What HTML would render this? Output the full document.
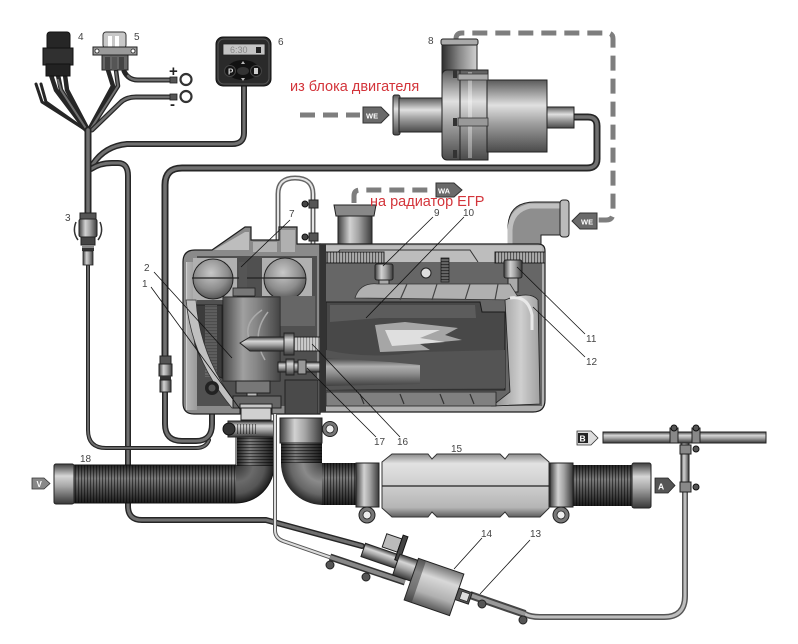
<!DOCTYPE html>
<html><head><meta charset="utf-8"><style>
html,body{margin:0;padding:0;background:#fff;}
svg{display:block}
.w1{fill:none;stroke:#262626;stroke-linecap:round;stroke-linejoin:round}
.w2{fill:none;stroke:#707070;stroke-linecap:round;stroke-linejoin:round}
.ld{stroke:#111;stroke-width:.8;fill:none}
.num{font-family:"Liberation Sans",sans-serif;font-size:10px;fill:#444}
.dash{fill:none;stroke:#7e7e7e;stroke-width:5;stroke-dasharray:15 8}
.red{font-family:"Liberation Sans","DejaVu Sans",sans-serif;font-size:14.5px;fill:#d3343a}
.ol{stroke:#1e1e1e;stroke-width:1.2}
</style></head><body>
<svg width="798" height="644" viewBox="0 0 798 644" xmlns="http://www.w3.org/2000/svg">
<defs>
 <linearGradient id="cH" x1="0" y1="0" x2="0" y2="1">
  <stop offset="0" stop-color="#3e3e3e"/><stop offset=".3" stop-color="#d6d6d6"/><stop offset=".55" stop-color="#a8a8a8"/><stop offset="1" stop-color="#383838"/>
 </linearGradient>
 <linearGradient id="cV" x1="0" y1="0" x2="1" y2="0">
  <stop offset="0" stop-color="#3e3e3e"/><stop offset=".35" stop-color="#d2d2d2"/><stop offset=".6" stop-color="#a4a4a4"/><stop offset="1" stop-color="#3a3a3a"/>
 </linearGradient>
 <linearGradient id="cVl" x1="0" y1="0" x2="1" y2="0">
  <stop offset="0" stop-color="#2e2e2e"/><stop offset=".5" stop-color="#888"/><stop offset="1" stop-color="#d0d0d0"/>
 </linearGradient>
 <linearGradient id="pump" x1="0" y1="0" x2="0" y2="1">
  <stop offset="0" stop-color="#5a5a5a"/><stop offset=".35" stop-color="#e0e0e0"/><stop offset=".6" stop-color="#a0a0a0"/><stop offset="1" stop-color="#4a4a4a"/>
 </linearGradient>
 <linearGradient id="fpump" x1="0" y1="0" x2="0" y2="1">
  <stop offset="0" stop-color="#777"/><stop offset=".3" stop-color="#d8d8d8"/><stop offset=".7" stop-color="#b0b0b0"/><stop offset="1" stop-color="#5a5a5a"/>
 </linearGradient>
 <linearGradient id="hoseH" x1="0" y1="0" x2="0" y2="1">
  <stop offset="0" stop-color="#222"/><stop offset=".35" stop-color="#7c7c7c"/><stop offset=".6" stop-color="#555"/><stop offset="1" stop-color="#1c1c1c"/>
 </linearGradient>
 <linearGradient id="hoseV" x1="0" y1="0" x2="1" y2="0">
  <stop offset="0" stop-color="#222"/><stop offset=".35" stop-color="#7c7c7c"/><stop offset=".6" stop-color="#555"/><stop offset="1" stop-color="#1c1c1c"/>
 </linearGradient>
 <radialGradient id="bend1" gradientUnits="userSpaceOnUse" cx="236" cy="465" r="38">
  <stop offset="0" stop-color="#333"/><stop offset=".45" stop-color="#6a6a6a"/><stop offset=".75" stop-color="#555"/><stop offset="1" stop-color="#1c1c1c"/>
 </radialGradient>
 <radialGradient id="bend2" gradientUnits="userSpaceOnUse" cx="322" cy="463" r="42">
  <stop offset="0" stop-color="#444"/><stop offset=".45" stop-color="#8a8a8a"/><stop offset=".75" stop-color="#666"/><stop offset="1" stop-color="#222"/>
 </radialGradient>
 <linearGradient id="muff" x1="0" y1="0" x2="0" y2="1">
  <stop offset="0" stop-color="#8a8a8a"/><stop offset=".15" stop-color="#e2e2e2"/><stop offset=".5" stop-color="#cecece"/><stop offset=".85" stop-color="#b5b5b5"/><stop offset="1" stop-color="#5e5e5e"/>
 </linearGradient>
 <linearGradient id="shell" x1="0" y1="0" x2="1" y2="0">
  <stop offset="0" stop-color="#e6e6e6"/><stop offset=".1" stop-color="#b4b4b4"/><stop offset="1" stop-color="#9a9a9a"/>
 </linearGradient>
 <linearGradient id="rside" x1="0" y1="0" x2="1" y2="0">
  <stop offset="0" stop-color="#8a8a8a"/><stop offset=".6" stop-color="#cfcfcf"/><stop offset="1" stop-color="#a0a0a0"/>
 </linearGradient>
 <radialGradient id="dome" cx=".45" cy=".35" r=".7">
  <stop offset="0" stop-color="#c8c8c8"/><stop offset=".6" stop-color="#8c8c8c"/><stop offset="1" stop-color="#4a4a4a"/>
 </radialGradient>
 <pattern id="ribV" width="3" height="20" patternUnits="userSpaceOnUse"><rect width="1.1" height="20" fill="#000" opacity=".5"/></pattern>
 <pattern id="ribH" width="20" height="3" patternUnits="userSpaceOnUse"><rect width="20" height="1.1" fill="#000" opacity=".5"/></pattern>
 <path id="cable" d="M574,117 L588,117 Q597,117 597,126 L597,159 Q597,168 587,168 L182,168 Q165,168 165,185 L165,358"/>
 <path id="wp" d="M244,85 L244,133 Q244,144 232,144 L127,144 Q105,146 93,164"/>
 <path id="w128" d="M91,169 Q100,163 112,163 L118,163 Q128,163 128,176 L128,506 Q128,520 142,520 L266,520 L362,546"/>
 <path id="trunk" d="M88,130 L88,215"/>
</defs>

<!-- ===== Dashed coolant lines ===== -->
<path class="dash" d="M300,115 L360,115"/>
<path class="dash" d="M354,203 L354,196 Q354,190 360,190 L432,190"/>
<path class="dash" d="M456,42 L456,39 Q456,33 462,33 L607,33 Q613,33 613,39 L613,213 Q613,220 606,220 L598,220"/>
<path d="M363,107 H381 L389,115 L381,123 H363 Z" fill="#6a6a6a" stroke="#333" stroke-width="1"/>
<text x="366" y="118.5" font-family="Liberation Sans,sans-serif" font-size="7.5" font-weight="bold" fill="#fff">WE</text>
<path d="M436,183 H454 L462,190 L454,197 H436 Z" fill="#6a6a6a" stroke="#333" stroke-width="1"/>
<text x="438" y="193.5" font-family="Liberation Sans,sans-serif" font-size="7.5" font-weight="bold" fill="#fff">WA</text>
<path d="M597,213 H580 L572,221 L580,229 H597 Z" fill="#6a6a6a" stroke="#333" stroke-width="1"/>
<text x="581" y="224.5" font-family="Liberation Sans,sans-serif" font-size="7.5" font-weight="bold" fill="#fff">WE</text>

<!-- ===== Harness wires ===== -->
<g>
 <path class="w1" stroke-width="3" d="M36,84 L42,102 L86,130"/>
 <path class="w1" stroke-width="3" d="M41,84 L46,102 L87,131"/>
 <path class="w1" stroke-width="4.5" d="M51,75 L56,90 L86,130"/>
 <path class="w1" stroke-width="4.5" d="M58,75 L61,90 L87,130"/>
 <path class="w1" stroke-width="4.5" d="M65,75 L67,90 L88,130"/>
 <path class="w2" stroke-width="2" d="M58,80 L61,90 L87,130"/>
 <path class="w1" stroke-width="4.5" d="M108,70 L113,86 L89,130"/>
 <path class="w1" stroke-width="4.5" d="M116,70 L118,86 L90,130"/>
 <path class="w2" stroke-width="2" d="M116,72 L118,86 L90,130"/>
 <path class="w1" stroke-width="5" d="M92,130 L120,103 Q126,97 136,97 L172,97"/>
 <path class="w2" stroke-width="2.5" d="M92,130 L120,103 Q126,97 136,97 L172,97"/>
 <path class="w1" stroke-width="5" d="M124,71 Q128,80 138,80 L172,80"/>
 <path class="w2" stroke-width="2.5" d="M128,76 Q131,80 138,80 L172,80"/>
 <rect x="170" y="77" width="7" height="6" fill="#555" stroke="#222" stroke-width=".8"/>
 <rect x="170" y="94" width="7" height="6" fill="#555" stroke="#222" stroke-width=".8"/>
 <circle cx="186" cy="79.5" r="5.5" fill="#fff" stroke="#333" stroke-width="2.2"/>
 <circle cx="186" cy="96.5" r="5.5" fill="#fff" stroke="#333" stroke-width="2.2"/>
 <text x="169" y="76" font-family="Liberation Sans,sans-serif" font-size="15" font-weight="bold" fill="#222">+</text>
 <text x="170" y="109" font-family="Liberation Sans,sans-serif" font-size="15" font-weight="bold" fill="#222">-</text>
 <use href="#wp" class="w1" stroke-width="6"/><use href="#wp" class="w2" stroke-width="3"/>
 <use href="#w128" class="w1" stroke-width="6"/><use href="#w128" class="w2" stroke-width="3"/>
 <use href="#trunk" class="w1" stroke-width="7"/><use href="#trunk" class="w2" stroke-width="3.5"/>
 <path class="w1" stroke-width="4" d="M88,266 L88,430 Q88,448 106,448 L196,448 Q206,448 209,440"/>
 <path class="w2" stroke-width="1.8" d="M88,266 L88,430 Q88,448 106,448 L196,448 Q206,448 209,440"/>
 <use href="#cable" class="w1" stroke-width="7"/><use href="#cable" class="w2" stroke-width="3.5"/>
 <path class="w1" stroke-width="6" d="M165,392 L165,424 Q165,441 182,441 L196,441 Q212,441 212,424 L212,392"/>
 <path class="w2" stroke-width="3" d="M165,392 L165,424 Q165,441 182,441 L196,441 Q212,441 212,424 L212,392"/>
</g>
<!-- component 4 -->
<rect x="47" y="32" width="23" height="18" rx="3" fill="#262626" stroke="#111"/>
<rect x="43" y="48" width="30" height="17" fill="#303030" stroke="#111"/>
<rect x="46" y="64" width="24" height="12" fill="#222" stroke="#111"/>
<!-- component 5 -->
<rect x="103" y="32" width="23" height="16" rx="3" fill="#c8c8c8" stroke="#333"/>
<rect x="108" y="36" width="4" height="11" fill="#fff"/><rect x="115" y="36" width="4" height="11" fill="#fff"/>
<rect x="93" y="47" width="44" height="8" fill="#9a9a9a" stroke="#222"/>
<circle cx="97" cy="51" r="2" fill="#fff" stroke="#222" stroke-width=".8"/><circle cx="133" cy="51" r="2" fill="#fff" stroke="#222" stroke-width=".8"/>
<rect x="102" y="55" width="26" height="15" fill="#666" stroke="#222"/>
<rect x="105" y="57" width="5" height="13" fill="#444"/><rect x="112" y="57" width="5" height="13" fill="#555"/><rect x="119" y="57" width="5" height="13" fill="#444"/>
<!-- component 6 control panel -->
<rect x="216" y="37" width="55" height="49" rx="7" fill="#2a2a2a" stroke="#111"/>
<rect x="218" y="39" width="51" height="45" rx="6" fill="none" stroke="#555" stroke-width="1"/>
<rect x="223" y="44" width="42" height="11" fill="#c4c4c4" stroke="#222" stroke-width=".8"/>
<text x="230" y="53" font-family="Liberation Sans,sans-serif" font-size="9" fill="#888">6:30</text>
<rect x="256" y="47" width="5" height="6" fill="#222"/>
<ellipse cx="243" cy="70" rx="16" ry="10" fill="#111"/>
<circle cx="230" cy="71" r="5.5" fill="#151515" stroke="#444"/><text x="228" y="74.5" font-family="Liberation Sans,sans-serif" font-size="8" font-weight="bold" fill="#ddd">P</text>
<circle cx="256" cy="71" r="5.5" fill="#151515" stroke="#444"/><rect x="254" y="68" width="4" height="6" fill="#ccc"/>
<ellipse cx="243" cy="71" rx="6" ry="4" fill="#333"/>
<path d="M241,64 L245,64 L243,61 Z M241,78 L245,78 L243,81 Z" fill="#bbb"/>
<!-- connector 3 -->
<rect x="80" y="213" width="16" height="6" fill="#555" stroke="#222"/>
<rect x="79" y="219" width="18" height="18" rx="2" fill="url(#cV)" stroke="#222"/>
<path d="M76,222 Q72,232 78,240 M100,222 Q104,232 98,240" stroke="#333" stroke-width="1.5" fill="none"/>
<rect x="81" y="237" width="14" height="8" fill="#444" stroke="#222"/>
<rect x="82" y="245" width="12" height="3" fill="#888"/><rect x="82" y="248" width="12" height="3" fill="#333"/>
<rect x="83" y="251" width="10" height="14" fill="url(#cV)" stroke="#222" stroke-width=".8"/>
<!-- connector on cable 165 -->
<rect x="160" y="356" width="11" height="8" fill="#555" stroke="#222"/>
<rect x="159" y="364" width="13" height="12" fill="url(#cV)" stroke="#222"/>
<rect x="160" y="376" width="11" height="4" fill="#333"/>
<rect x="160" y="380" width="11" height="12" fill="url(#cV)" stroke="#222"/>

<!-- ===== Pump 8 ===== -->
<rect x="442" y="40" width="35" height="40" fill="url(#cVl)" stroke="#222"/>
<rect x="441" y="39" width="37" height="6" rx="2" fill="#aaa" stroke="#222"/>
<rect x="393" y="95" width="7" height="40" rx="2" fill="url(#pump)" stroke="#222"/>
<rect x="399" y="98" width="46" height="34" fill="url(#pump)" stroke="#222"/>
<rect x="442" y="70" width="22" height="90" rx="5" fill="url(#pump)" stroke="#222"/>
<rect x="460" y="70" width="28" height="90" fill="url(#pump)" stroke="#222"/>
<rect x="468" y="72" width="4" height="86" fill="#fff" opacity=".35"/>
<rect x="487" y="80" width="60" height="72" fill="url(#pump)" stroke="#222"/>
<rect x="547" y="107" width="27" height="21" fill="url(#pump)" stroke="#222"/>
<rect x="453" y="70" width="4" height="8" fill="#333"/><rect x="453" y="118" width="4" height="8" fill="#333"/><rect x="453" y="150" width="4" height="8" fill="#333"/>
<rect x="458" y="118" width="30" height="8" fill="#999" stroke="#333" stroke-width=".8"/>
<rect x="458" y="74" width="30" height="6" fill="#aaa" stroke="#333" stroke-width=".8"/>

<!-- ===== Heater ===== -->
<rect x="338" y="210" width="34" height="48" fill="url(#cV)" stroke="#222"/>
<path d="M334,205 L376,205 L374,216 L336,216 Z" fill="#888" stroke="#222"/>
<path d="M508,258 L508,228 Q508,202 535,202 L562,202 L562,235 L541,235 L541,258 Z" fill="#8e8e8e" stroke="#222"/>
<path d="M510,258 L510,230 Q511,210 530,206 L560,206" fill="none" stroke="#c0c0c0" stroke-width="5"/>
<rect x="560" y="200" width="9" height="37" rx="3" fill="#bbb" stroke="#222"/>
<path d="M278,250 L278,194 Q278,178 295,178 Q313,178 313,194 L313,300 L305,318 L305,342" fill="none" stroke="#666" stroke-width="5"/>
<path d="M278,250 L278,194 Q278,178 295,178 Q313,178 313,194 L313,300 L305,318 L305,342" fill="none" stroke="#e4e4e4" stroke-width="2"/>
<rect x="309" y="200" width="9" height="8" fill="#555" stroke="#222"/><circle cx="305" cy="204" r="3" fill="#444" stroke="#111"/>
<rect x="309" y="233" width="9" height="8" fill="#555" stroke="#222"/><circle cx="305" cy="237" r="3" fill="#444" stroke="#111"/>

<!-- left housing -->
<path class="ol" d="M183,262 Q183,250 195,250 L212,250 L245,227 L251,227 L251,240 L279,240 L279,227 L297,227 L297,244 L320,244 L320,414 L194,414 Q183,414 183,403 Z" fill="#8a8a8a"/>
<path d="M214,250 L245,232 L249,232 L249,250 Z" fill="#bdbdbd"/>
<path d="M253,242 L277,242 L277,252 L253,252 Z M281,230 L295,230 L295,252 L281,252Z" fill="#b0b0b0"/>
<rect x="186" y="262" width="11" height="148" fill="url(#shell)"/>
<rect x="197" y="256" width="120" height="150" fill="#505050"/>
<rect x="193" y="258" width="44" height="42" fill="#b0b0b0"/>
<rect x="262" y="258" width="50" height="42" fill="#b0b0b0"/>
<circle cx="213" cy="279" r="20" fill="url(#dome)" stroke="#222"/>
<circle cx="285" cy="279" r="21" fill="url(#dome)" stroke="#222"/>
<line x1="192" y1="278" x2="306" y2="278" stroke="#222" stroke-width="1.2"/>
<rect x="239" y="262" width="8" height="28" fill="#555"/>
<rect x="233" y="288" width="22" height="8" fill="#777" stroke="#222" stroke-width=".8"/>
<rect x="255" y="296" width="60" height="30" fill="#666"/>
<path d="M190,305 L222,305 L222,378 Q205,372 195,345 Z" fill="#3c3c3c" stroke="#222"/>
<rect x="205" y="305" width="12" height="72" fill="url(#ribH)"/>
<rect x="205" y="305" width="12" height="72" fill="#888" opacity=".45"/>
<path d="M186,300 Q192,360 232,408 L240,408 Q200,360 196,300 Z" fill="#c0c0c0" stroke="#333" stroke-width=".8"/>
<rect x="223" y="297" width="57" height="84" fill="url(#cV)" stroke="#222"/>
<rect x="223" y="297" width="57" height="84" fill="#555" opacity=".4"/>
<path d="M262,310 Q240,325 252,345 M268,312 Q250,335 265,360" stroke="#aaa" stroke-width="1.5" fill="none"/>
<rect x="236" y="381" width="34" height="12" fill="#777" stroke="#222"/>
<rect x="247" y="393" width="10" height="12" fill="#bbb" stroke="#222"/>
<rect x="233" y="396" width="48" height="12" fill="#666" stroke="#222"/>
<rect x="240" y="404" width="32" height="10" fill="#c8c8c8" stroke="#222"/>
<path d="M240,343 L250,337 L285,337 L285,351 L250,351 Z" fill="url(#cH)" stroke="#222"/>
<rect x="284" y="333" width="10" height="22" fill="url(#cH)" stroke="#222"/>
<rect x="294" y="337" width="40" height="14" fill="#ccc" stroke="#222"/>
<rect x="294" y="337" width="40" height="14" fill="url(#ribV)" opacity=".6"/>
<circle cx="331" cy="344" r="5" fill="#444" stroke="#111"/>
<rect x="278" y="362" width="62" height="10" fill="url(#cH)" stroke="#222"/>
<rect x="286" y="359" width="8" height="16" fill="url(#cH)" stroke="#222"/>
<rect x="298" y="360" width="8" height="14" fill="#999" stroke="#222"/>
<path d="M285,380 L318,380 L318,414 L285,414 Z" fill="#4a4a4a" stroke="#222"/>
<circle cx="212" cy="388" r="7" fill="#222"/><circle cx="212" cy="388" r="3.5" fill="#555"/>

<!-- right housing -->
<path class="ol" d="M320,244 L538,244 Q545,244 545,251 L545,400 Q545,412 533,412 L320,412 Z" fill="#b0b0b0"/>
<rect x="322" y="262" width="220" height="144" fill="#666"/>
<rect x="322" y="246" width="220" height="16" fill="#bdbdbd"/>
<path d="M330,262 L340,250 L470,250 L478,262" fill="none" stroke="#333" stroke-width="1"/>
<rect x="326" y="252" width="58" height="11" fill="#aaa" stroke="#222"/>
<rect x="326" y="252" width="58" height="11" fill="url(#ribV)"/>
<rect x="495" y="252" width="50" height="11" fill="#aaa" stroke="#222"/>
<rect x="495" y="252" width="50" height="11" fill="url(#ribV)"/>
<circle cx="426" cy="273" r="5" fill="#ddd" stroke="#222"/>
<rect x="441" y="258" width="8" height="24" fill="#666" stroke="#222" stroke-width=".8"/>
<rect x="441" y="258" width="8" height="24" fill="url(#ribH)"/>
<rect x="375" y="264" width="18" height="16" rx="2" fill="url(#cV)" stroke="#222"/>
<rect x="379" y="280" width="10" height="12" fill="#aaa" stroke="#222"/>
<rect x="504" y="260" width="18" height="18" rx="2" fill="url(#cV)" stroke="#222"/>
<rect x="508" y="278" width="10" height="14" fill="#aaa" stroke="#222"/>
<path d="M355,298 Q360,282 378,284 L510,284 L520,300 Z" fill="#b0b0b0" stroke="#333" stroke-width=".8"/>
<path d="M400,300 L407,284 M432,300 L437,284 M465,300 L470,284 M495,300 L498,284" stroke="#444" stroke-width="1.2"/>
<path d="M326,302 L480,302 L482,312 L505,312 L505,390 L326,390 Z" fill="#484848" stroke="#1a1a1a"/>
<path d="M330,305 L475,305 L476,318 L380,318 L330,322 Z" fill="#5c5c5c"/>
<path d="M326,350 Q370,360 420,352 L505,350 L505,388 L326,390 Z" fill="#545454"/>
<path d="M326,358 L390,362 L420,365 L420,384 L326,386 Z" fill="url(#cH)" opacity=".7"/>
<path d="M375,325 L405,322 L458,328 L445,335 L462,340 L420,344 L430,350 L380,352 Z" fill="#cfcfcf" opacity=".7"/>
<path d="M385,330 L440,330 L420,338 L445,342 L392,346 Z" fill="#f2f2f2" opacity=".75"/>
<path d="M505,300 Q530,290 538,300 L540,404 L492,406 L510,392 Z" fill="url(#rside)" stroke="#222" stroke-width=".8"/>
<path d="M510,298 Q528,295 532,315 L532,330" fill="none" stroke="#e8e8e8" stroke-width="3"/>
<rect x="326" y="392" width="170" height="14" fill="#808080" stroke="#222" stroke-width=".8"/>
<path d="M360,394 L364,404 M400,394 L404,404 M440,394 L444,404 M470,394 L474,404" stroke="#333" stroke-width="1.2"/>
<rect x="320" y="244" width="6" height="168" fill="#333"/>

<!-- ===== Intake hose 18 ===== -->
<rect x="73" y="465" width="165" height="38" fill="url(#hoseH)"/>
<rect x="73" y="465" width="165" height="38" fill="url(#ribV)"/>
<path d="M236,465 L274,465 A38,38 0 0 1 236,503 Z" fill="url(#bend1)"/>
<rect x="237" y="436" width="37" height="30" fill="url(#hoseV)"/>
<rect x="237" y="436" width="37" height="30" fill="url(#ribH)"/>
<path d="M73,465 L236,465 L236,436 M274,436 L274,465 A38,38 0 0 1 236,503 L73,503" fill="none" stroke="#111" stroke-width="1"/>
<rect x="54" y="464" width="20" height="40" rx="2" fill="url(#cH)" stroke="#222"/>
<rect x="241" y="408" width="30" height="12" fill="#d0d0d0" stroke="#222"/>
<rect x="228" y="421" width="46" height="16" fill="url(#cH)" stroke="#222"/>
<rect x="236" y="424" width="20" height="10" fill="url(#ribV)"/>
<circle cx="229" cy="429" r="6" fill="#333" stroke="#111"/>
<path d="M32,478 H44 L50,483.5 L44,489 H32 Z" fill="#888" stroke="#333" stroke-width=".8"/>
<text x="36.5" y="487" font-family="Liberation Sans,sans-serif" font-size="8" font-weight="bold" fill="#fff">V</text>

<!-- ===== Exhaust ===== -->
<rect x="280" y="418" width="42" height="25" fill="url(#cV)" stroke="#222"/>
<circle cx="330" cy="429" r="7.5" fill="#777" stroke="#222"/><circle cx="330" cy="429" r="4" fill="#eee" stroke="#222" stroke-width=".8"/>
<rect x="281" y="443" width="41" height="21" fill="url(#hoseV)"/>
<rect x="281" y="443" width="41" height="21" fill="url(#ribH)"/>
<path d="M322,463 L322,505 A42,42 0 0 1 281,463 Z" fill="url(#bend2)"/>
<rect x="322" y="463" width="36" height="42" fill="url(#hoseH)"/>
<rect x="322" y="463" width="36" height="42" fill="url(#ribV)"/>
<rect x="572" y="465" width="61" height="41" fill="url(#hoseH)"/>
<rect x="572" y="465" width="61" height="41" fill="url(#ribV)"/>
<rect x="632" y="463" width="19" height="45" rx="2" fill="url(#cH)" stroke="#222"/>
<path d="M382,462 L392,454 L428,454 L432,459 L437,454 L500,454 L505,459 L509,454 L540,454 L549,462 L549,508 L540,517 L509,517 L505,512 L500,517 L437,517 L432,512 L428,517 L392,517 L382,508 Z" fill="url(#muff)" stroke="#333"/>
<line x1="382" y1="486" x2="549" y2="486" stroke="#222" stroke-width="1.2"/>
<rect x="356" y="463" width="23" height="44" fill="url(#cV)" stroke="#222"/>
<rect x="550" y="463" width="23" height="44" fill="url(#cV)" stroke="#222"/>
<circle cx="367" cy="515" r="8" fill="#777" stroke="#222"/><circle cx="367" cy="515" r="4" fill="#eee" stroke="#222" stroke-width=".8"/>
<circle cx="561" cy="515" r="8" fill="#777" stroke="#222"/><circle cx="561" cy="515" r="4" fill="#eee" stroke="#222" stroke-width=".8"/>

<!-- ===== Fuel lines ===== -->
<path d="M275,414 L275,530 Q275,538 283,541 L332,558" fill="none" stroke="#555" stroke-width="4"/>
<path d="M275,414 L275,530 Q275,538 283,541 L332,558" fill="none" stroke="#ddd" stroke-width="2"/>
<path d="M330,557 L405,582" fill="none" stroke="#333" stroke-width="7"/>
<path d="M330,557 L405,582" fill="none" stroke="#888" stroke-width="4"/>
<circle cx="330" cy="565" r="4" fill="#555" stroke="#222"/>
<circle cx="366" cy="577" r="4" fill="#555" stroke="#222"/>
<path d="M470,595 L525,614 Q530,617 540,617 L664,617 Q685,617 685,596 L685,488" fill="none" stroke="#555" stroke-width="6"/>
<path d="M470,595 L525,614 Q530,617 540,617 L664,617 Q685,617 685,596 L685,488" fill="none" stroke="#bdbdbd" stroke-width="3"/>
<path d="M470,595 L525,614" fill="none" stroke="#444" stroke-width="8"/>
<path d="M470,595 L525,614" fill="none" stroke="#999" stroke-width="4"/>
<rect x="681" y="440" width="8" height="50" fill="url(#cV)" stroke="#222"/>
<rect x="603" y="432" width="163" height="11" fill="url(#cH)" stroke="#222"/>
<rect x="670" y="428" width="8" height="15" fill="#888" stroke="#222"/><circle cx="674" cy="428" r="3" fill="#555" stroke="#111"/>
<rect x="692" y="428" width="8" height="15" fill="#888" stroke="#222"/><circle cx="696" cy="428" r="3" fill="#555" stroke="#111"/>
<rect x="680" y="445" width="11" height="9" fill="#888" stroke="#222"/><circle cx="696" cy="449" r="3" fill="#555" stroke="#111"/>
<rect x="680" y="482" width="11" height="10" fill="#888" stroke="#222"/><circle cx="696" cy="487" r="3" fill="#555" stroke="#111"/>
<path d="M577,431 H591 L598,438 L591,445 H577 Z" fill="#ddd" stroke="#333" stroke-width=".8"/>
<rect x="578" y="433" width="10" height="10" fill="#222"/>
<text x="579.5" y="441.5" font-family="Liberation Sans,sans-serif" font-size="8.5" font-weight="bold" fill="#fff">B</text>
<path d="M655,478 H668 L675,485.5 L668,493 H655 Z" fill="#555" stroke="#222" stroke-width=".8"/>
<text x="658" y="489.5" font-family="Liberation Sans,sans-serif" font-size="8.5" font-weight="bold" fill="#fff">A</text>

<!-- ===== Fuel pump 14 ===== -->
<g transform="rotate(19 434 587)">
 <rect x="355" y="568" width="36" height="14" fill="url(#cH)" stroke="#222"/>
 <rect x="372" y="552" width="16" height="14" fill="#bbb" stroke="#222"/>
 <rect x="388" y="548" width="5" height="26" fill="#444" stroke="#111"/>
 <rect x="391" y="567" width="20" height="22" fill="url(#cH)" stroke="#222"/>
 <rect x="410" y="565" width="48" height="44" fill="url(#fpump)" stroke="#222"/>
 <rect x="410" y="565" width="8" height="44" fill="#333" opacity=".5"/>
 <rect x="458" y="580" width="14" height="12" fill="#555" stroke="#222"/>
 <rect x="462" y="582" width="8" height="8" fill="#ddd" stroke="#222" stroke-width=".6"/>
</g>
<circle cx="482" cy="604" r="4" fill="#555" stroke="#222"/>
<circle cx="523" cy="620" r="4" fill="#555" stroke="#222"/>

<!-- ===== Leader lines ===== -->
<line class="ld" x1="290" y1="220" x2="241" y2="267"/>
<line class="ld" x1="154" y1="272" x2="232" y2="358"/>
<line class="ld" x1="151" y1="287" x2="240" y2="409"/>
<line class="ld" x1="433" y1="217" x2="383" y2="266"/>
<line class="ld" x1="464" y1="217" x2="366" y2="318"/>
<line class="ld" x1="517" y1="267" x2="585" y2="334"/>
<line class="ld" x1="533" y1="307" x2="585" y2="357"/>
<line class="ld" x1="312" y1="344" x2="400" y2="437"/>
<line class="ld" x1="307" y1="368" x2="376" y2="437"/>
<line class="ld" x1="482" y1="538" x2="454" y2="569"/>
<line class="ld" x1="530" y1="540" x2="480" y2="594"/>

<!-- ===== Numbers ===== -->
<text class="num" x="78" y="40">4</text>
<text class="num" x="134" y="40">5</text>
<text class="num" x="278" y="45">6</text>
<text class="num" x="428" y="44">8</text>
<text class="num" x="289" y="217">7</text>
<text class="num" x="434" y="216">9</text>
<text class="num" x="463" y="216">10</text>
<text class="num" x="65" y="221">3</text>
<text class="num" x="144" y="271">2</text>
<text class="num" x="142" y="287">1</text>
<text class="num" x="586" y="342">11</text>
<text class="num" x="586" y="365">12</text>
<text class="num" x="374" y="445">17</text>
<text class="num" x="397" y="445">16</text>
<text class="num" x="451" y="452">15</text>
<text class="num" x="80" y="462">18</text>
<text class="num" x="481" y="537">14</text>
<text class="num" x="530" y="537">13</text>

<text class="red" x="290" y="91">из блока двигателя</text>
<text class="red" x="370" y="206">на радиатор ЕГР</text>
</svg>
</body></html>
